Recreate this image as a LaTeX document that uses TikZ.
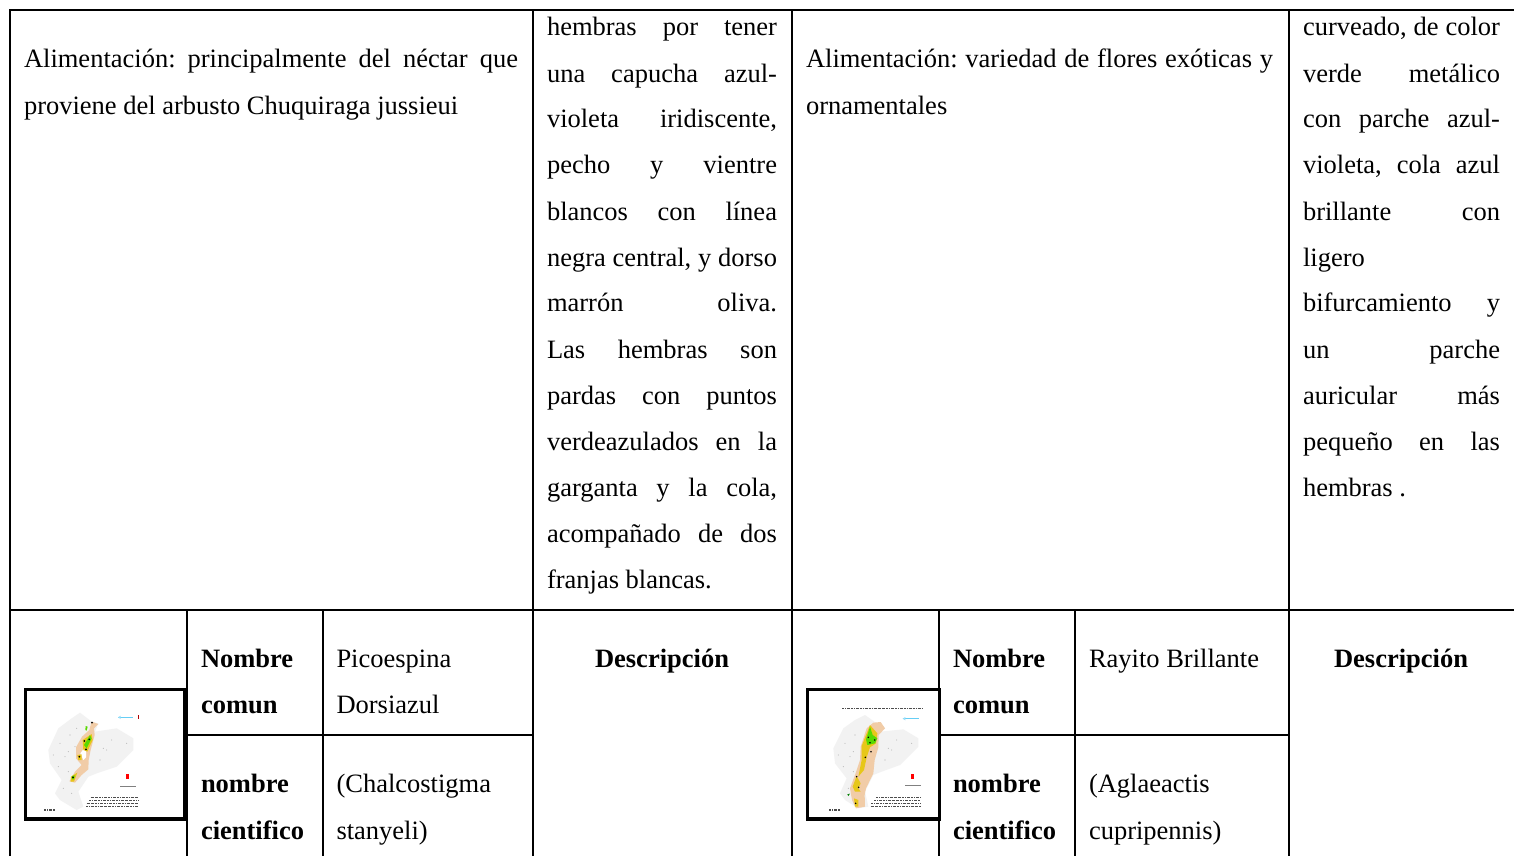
\documentclass[tikz,border=0pt]{standalone}
\usepackage{fontspec}
\setmainfont{Liberation Serif}
\tikzset{
  rule/.style={draw=black,line width=2pt},
  txt/.style={anchor=base west,inner sep=0pt,outer sep=0pt},
  ctr/.style={anchor=base,inner sep=0pt,outer sep=0pt,font=\fontsize{26.5}{30}\selectfont\bfseries},
  mapframe/.style={draw=black,line width=3.2pt,fill=white},
  mapedge/.style={draw=black,line width=4.2pt},
  land/.style={fill=black!5,draw=none},
  orangeb/.style={fill=orange!45!brown!40!white,draw=none},
  yellowb/.style={fill=yellow!75!orange!90!black,draw=none},
  greenb/.style={fill=green!60!yellow!85!black,draw=none},
  micro/.style={draw=black!70,line width=0.8pt,dash pattern=on 2pt off 0.8pt on 0.8pt off 1.2pt on 3pt off 1pt},
  speck/.style={fill=black!30,draw=none}
}
\newcommand{\tline}[5]{\node[txt] (#1) at (#2,#3) {\fontsize{26.5}{30}\selectfont\hbox to #4pt{#5}};}
\newcommand{\tfree}[4]{\node[txt] (#1) at (#2,#3) {\fontsize{26.5}{30}\selectfont #4};}
\newcommand{\tbold}[4]{\node[txt] (#1) at (#2,#3) {\fontsize{26.5}{30}\selectfont\bfseries #4};}
\begin{document}
\begin{tikzpicture}[x=1pt,y=-1pt]
\useasboundingbox (0,0) rectangle (1514,856);
\fill[white] (0,0) rectangle (1514,856);
% grid
\draw[rule] (10,856) -- (10,10) -- (1514,10);
\draw[rule] (10,610) -- (1514,610);
\draw[rule] (533,10) -- (533,856);
\draw[rule] (792,10) -- (792,856);
\draw[rule] (1289,10) -- (1289,856);
\draw[rule] (187,610) -- (187,856);
\draw[rule] (323,610) -- (323,856);
\draw[rule] (939,610) -- (939,856);
\draw[rule] (1075,610) -- (1075,856);
\draw[rule] (187,735) -- (533,735);
\draw[rule] (939,735) -- (1289,735);
% col 1
\tline{a1}{24}{68}{494}{Alimentación:\hfill principalmente\hfill del\hfill néctar\hfill que}
\tfree{a2}{24}{114}{proviene del arbusto Chuquiraga jussieui}
% col 2
\tline{b1}{547}{36}{230}{hembras\hfill por\hfill tener}
\tline{b2}{547}{82.5}{230}{una\hfill capucha\hfill azul-}
\tline{b3}{547}{128}{230}{violeta\hfill iridiscente,}
\tline{b4}{547}{173.5}{230}{pecho\hfill y\hfill vientre}
\tline{b5}{547}{220.5}{230}{blancos\hfill con\hfill línea}
\tline{b6}{547}{266.5}{230}{negra\hfill central,\hfill y\hfill dorso}
\tline{b7}{547}{311.5}{230}{marrón\hfill oliva.}
\tline{b8}{547}{358.5}{230}{Las\hfill hembras\hfill son}
\tline{b9}{547}{404.5}{230}{pardas\hfill con\hfill puntos}
\tline{b10}{547}{450.5}{230}{verdeazulados\hfill en\hfill la}
\tline{b11}{547}{496.5}{230}{garganta\hfill y\hfill la\hfill cola,}
\tline{b12}{547}{542.5}{230}{acompañado\hfill de\hfill dos}
\tfree{b13}{547}{588.5}{franjas blancas.}
% col 3
\tline{c1}{806}{68}{467}{Alimentación:\hfill variedad\hfill de\hfill flores\hfill exóticas\hfill y}
\tfree{c2}{806}{114}{ornamentales}
% col 4
\tline{d1}{1303}{36}{197}{curveado,\hfill de\hfill color}
\tline{d2}{1303}{82.5}{197}{verde\hfill metálico}
\tline{d3}{1303}{128}{197}{con\hfill parche\hfill azul-}
\tline{d4}{1303}{173.5}{197}{violeta,\hfill cola\hfill azul}
\tline{d5}{1303}{220.5}{197}{brillante\hfill con}
\tfree{d6}{1303}{266.5}{ligero}
\tline{d7}{1303}{311.5}{197}{bifurcamiento\hfill y}
\tline{d8}{1303}{358.5}{197}{un\hfill parche}
\tline{d9}{1303}{404.5}{197}{auricular\hfill más}
\tline{d10}{1303}{450.5}{197}{pequeño\hfill en\hfill las}
\tfree{d11}{1303}{496.5}{hembras .}
% lower row, left
\tbold{e1}{201}{667}{Nombre}
\tbold{e2}{201}{713}{comun}
\tbold{e3}{201}{792}{nombre}
\tbold{e4}{201}{839}{cientifico}
\tfree{e5}{336.5}{667}{Picoespina}
\tfree{e6}{336.5}{713}{Dorsiazul}
\tfree{e7}{336.5}{792}{(Chalcostigma}
\tfree{e8}{336.5}{839}{stanyeli)}
\node[ctr] (e9) at (662,667) {Descripción};
% lower row, right
\tbold{f1}{953}{667}{Nombre}
\tbold{f2}{953}{713}{comun}
\tbold{f3}{953}{792}{nombre}
\tbold{f4}{953}{839}{cientifico}
\tfree{f5}{1089}{667}{Rayito Brillante}
\tfree{f7}{1089}{792}{(Aglaeactis}
\tfree{f8}{1089}{839}{cupripennis)}
\node[ctr] (f9) at (1401,667) {Descripción};
% map 1 (coordinates in 3x units)
\begin{scope}[shift={(0,660)},x=0.33333pt,y=-0.33333pt]
\draw[mapframe] (77,88) rectangle (556,476);
\draw[mapedge] (72,476) -- (561,476);
\draw[mapedge] (556,86) -- (556,480);
\fill[land] (240,158) -- (275,185) -- (295,190) -- (285,215) -- (350,205) -- (400,235) -- (400,270) -- (350,320) -- (290,340) -- (265,350) -- (235,395) -- (250,440) -- (230,450) -- (180,420) -- (165,400) -- (185,360) -- (150,310) -- (145,270) -- (175,205) -- (215,175) -- cycle;
\foreach \p in {(180,250),(210,225),(195,290),(175,320),(205,335),(230,205),(310,265),(320,270),(335,240),(300,300),(190,385),(215,400),(160,285),(225,260),(380,250),(205,275)} \fill[speck] \p circle (1.6);
\fill[orangeb] (275,185) -- (295,192) -- (282,205) -- (284,225) -- (272,270) -- (266,300) -- (265,328) -- (245,345) -- (225,368) -- (208,364) -- (225,335) -- (245,315) -- (228,295) -- (228,262) -- (246,230) -- (268,210) -- cycle;
\fill[white] (250,268) -- (258,272) -- (258,292) -- (250,300) -- (241,280) -- cycle;
\fill[yellowb] (275,222) -- (278,240) -- (262,275) -- (250,270) -- (248,240) -- cycle;
\fill[yellowb] (232,285) -- (245,283) -- (245,300) -- (235,300) -- cycle;
\fill[yellowb] (213,350) -- (232,338) -- (222,365) -- (212,365) -- cycle;
\fill[greenb] (270,225) -- (275,235) -- (260,265) -- (252,255) -- cycle;
\fill[greenb] (257,198) -- (263,200) -- (260,212) -- (256,210) -- cycle;
\fill[greenb] (216,348) -- (224,346) -- (222,358) -- (216,358) -- cycle;
\foreach \p in {(276,188),(268,238),(253,243),(258,268),(238,290),(219,352)} \fill[black] \p circle (3);
\draw[cyan!60,line width=1pt] (354,172) -- (400,172);
\fill[cyan!40] (354,172) -- (362,167) -- (362,177) -- cycle;
\fill[red!70!black] (413,166) rectangle (416,178);
\fill[red] (379,343) rectangle (387,356);
\draw[black!50,line width=0.5pt] (360,378) -- (408,378);
\draw[micro] (272,412) -- (416,412);
\draw[micro] (268,420) -- (416,420);
\draw[micro] (260,430) -- (416,430);
\draw[micro] (258,440) -- (416,440);
\draw[micro,line width=1.2pt] (133,450) -- (164,450);
\end{scope}
% map 2
\begin{scope}[shift={(790,660)},x=0.33333pt,y=-0.33333pt]
\draw[mapframe] (53,88) rectangle (448,476);
\draw[mapedge] (48,476) -- (452,476);
\fill[land] (225,165) -- (260,190) -- (285,205) -- (270,215) -- (340,208) -- (385,235) -- (385,260) -- (330,315) -- (275,335) -- (250,345) -- (225,395) -- (235,440) -- (205,445) -- (165,420) -- (150,400) -- (170,355) -- (135,310) -- (130,265) -- (160,205) -- (195,180) -- cycle;
\foreach \p in {(165,250),(195,225),(180,290),(160,320),(190,335),(295,265),(305,270),(320,240),(285,300),(175,385),(145,285),(365,250),(190,275)} \fill[speck] \p circle (1.6);
\fill[orangeb] (250,188) -- (272,186) -- (285,205) -- (266,225) -- (265,262) -- (254,300) -- (250,340) -- (228,385) -- (224,405) -- (225,440) -- (198,445) -- (186,420) -- (180,385) -- (195,345) -- (210,300) -- (212,260) -- (230,205) -- cycle;
\fill[yellowb] (240,195) -- (262,220) -- (258,250) -- (240,262) -- (230,292) -- (222,330) -- (205,350) -- (215,300) -- (215,258) -- (228,225) -- cycle;
\fill[yellowb] (200,348) -- (212,370) -- (205,385) -- (212,395) -- (195,395) -- (188,380) -- cycle;
\fill[yellowb] (192,415) -- (205,420) -- (205,440) -- (195,440) -- cycle;
\fill[greenb] (240,200) -- (248,225) -- (262,235) -- (255,250) -- (232,255) -- (228,238) -- cycle;
\fill[green!50!black] (172,403) -- (180,401) -- (175,408) -- cycle;
\foreach \p in {(235,232),(254,240),(240,248),(226,292),(243,275),(200,350),(206,382),(197,430)} \fill[black] \p circle (2.6);
\draw[micro,line width=1.4pt] (157,145) -- (396,145);
\draw[cyan!60,line width=1pt] (338,176) -- (388,176);
\fill[cyan!40] (338,176) -- (346,171) -- (346,181) -- cycle;
\fill[red] (364,343) rectangle (372,356);
\draw[black!50,line width=0.5pt] (346,376) -- (394,376);
\draw[micro] (258,412) -- (392,412);
\draw[micro] (252,420) -- (392,420);
\draw[micro] (244,430) -- (392,430);
\draw[micro] (242,438) -- (392,438);
\draw[micro,line width=1.2pt] (118,450) -- (150,450);
\end{scope}
\end{tikzpicture}
\end{document}
